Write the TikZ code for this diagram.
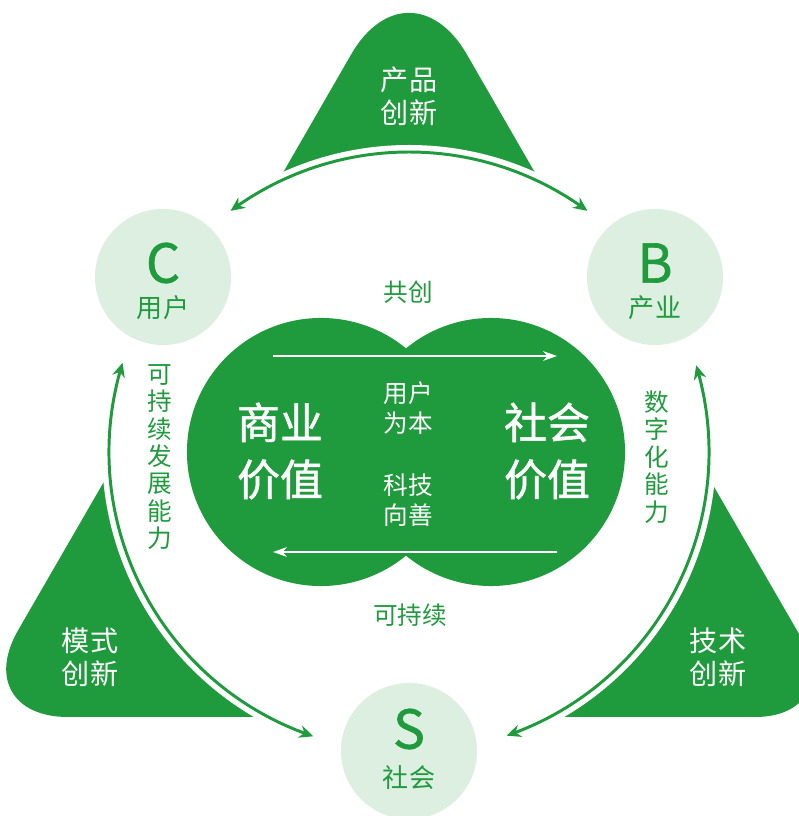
\documentclass[tikz,border=0pt]{standalone}
\usepackage{fontspec}
\usepackage{tikz}
\usetikzlibrary{arrows.meta,bending}
\newfontfamily\cjk{Noto Sans CJK SC}
\newfontfamily\cjkheavy[FakeBold=1.2]{Noto Sans CJK SC}
\definecolor{leaf}{HTML}{1F9A3C}
\definecolor{mint}{HTML}{DDEFE1}

\begin{document}
\begin{tikzpicture}[x=0.025cm, y=0.025cm,
    >={Stealth[length=10pt, width=9pt]},
    ring/.style={leaf, line width=2.1pt},
    flow/.style={white, line width=0.9pt, arrows={-Stealth[length=10pt, width=7pt]}},
    badge/.style={circle, fill=mint, minimum size=3.4cm, inner sep=0pt},
    lobe/.style={circle, fill=leaf, minimum size=6.7cm, inner sep=0pt},
    letter/.style={font=\cjkheavy\fontsize{38}{40}\selectfont, leaf},
    role/.style={font=\cjk\fontsize{18.5}{20}\selectfont, leaf},
    bigvalue/.style={font=\cjkheavy\fontsize{30.5}{40.4}\selectfont, white, align=center},
    motto/.style={font=\cjk\fontsize{17.5}{21.3}\selectfont, white, align=center},
    tag/.style={font=\cjk\fontsize{17.5}{19.5}\selectfont, leaf, align=center},
    petal/.style={font=\cjk\fontsize{20}{23.4}\selectfont, white, align=center}]
          \useasboundingbox (0,0) rectangle (799,816);
          \coordinate (hub) at (409,364);
          % three petals, cut by the white ring
          \fill [leaf] (250,586) [rounded corners=2.9cm] -- (409,862) [sharp corners] -- (568,586) -- cycle;
          \fill [leaf] (139,395) [rounded corners=2.5cm] -- (-32,99) [sharp corners] -- (290,99) -- cycle;
          \fill [leaf] (676,395) [rounded corners=2.3cm] -- (847,99) [sharp corners] -- (528,99) -- cycle;
          \fill [white] (hub) circle [radius=307];
          \node [petal] (prod) at (409,720) {产品\\创新};
          \node [petal] (mode) at (90,159) {模式\\创新};
          \node [petal] (tech) at (718,159) {技术\\创新};
          % outer arrows
          \draw [<->, ring] ([shift={(126.5:300)}]hub) arc [start angle=126.5, end angle=53.5, radius=300];
          \draw [<->, ring] ([shift={(162.7:300)}]hub) arc [start angle=162.7, end angle=251.4, radius=300];
          \draw [<->, ring] ([shift={(16.8:300)}]hub) arc [start angle=16.8, end angle=-71, radius=300];
          % three parties
          \node [badge] (C) at (163,539) {};
          \node [badge] (B) at (655,539) {};
          \node [badge] (S) at (409,65) {};
          \node [letter] (Cl) at (163,553) {C};
          \node [role] (Cr) at (163,508) {用户};
          \node [letter] (Bl) at (655,553) {B};
          \node [role] (Br) at (655,508) {产业};
          \node [letter] (Sl) at (409,87) {S};
          \node [role] (Sr) at (409,38) {社会};
          % two values
          \node [lobe] (biz) at (321,364) {};
          \node [lobe] (soc) at (491,364) {};
          \coordinate (f1) at (273,460);
          \coordinate (f2) at (557,460);
          \coordinate (f3) at (557,264);
          \coordinate (f4) at (273,264);
          \draw [flow] (f1) -- (f2);
          \draw [flow] (f3) -- (f4);
          \node [bigvalue] (bizv) at (280,365) {商业\\价值};
          \node [bigvalue] (socv) at (547,365) {社会\\价值};
          \node [motto] (user) at (408,408) {用户\\为本};
          \node [motto] (good) at (408,316) {科技\\向善};
          \node [tag] (co) at (408,524) {共创};
          \node [tag] (sus) at (410,201) {可持续};
          \node [tag] (grow) at (160,359) {可\\持\\续\\发\\展\\能\\力};
          \node [tag] (digi) at (657,359) {数\\字\\化\\能\\力};
        \end{tikzpicture}
\end{document}
